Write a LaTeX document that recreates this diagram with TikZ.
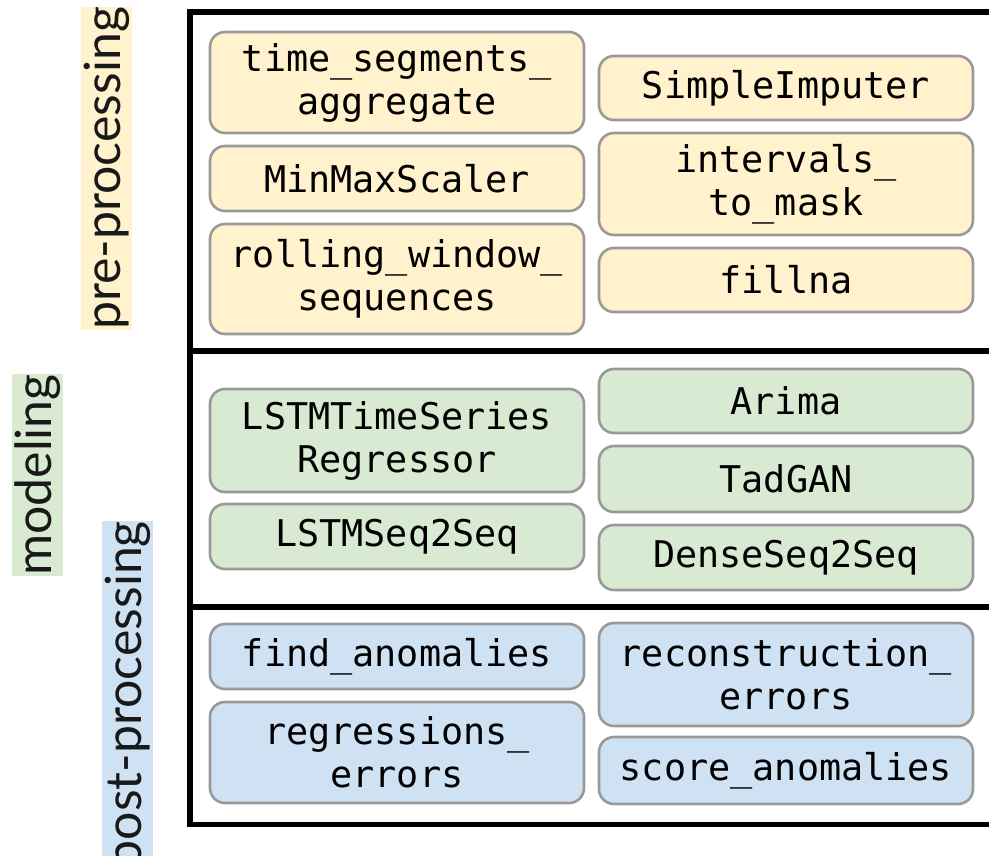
\documentclass[tikz,border=0pt]{standalone}
\usepackage{fontspec}
\setmainfont{Lato}
\newfontfamily\monof{DejaVu Sans Mono}
\definecolor{preY}{HTML}{FFF2CC}
\definecolor{modG}{HTML}{D9EAD3}
\definecolor{postB}{HTML}{CFE2F3}
\definecolor{boxline}{HTML}{999999}
\tikzset{
  fn/.style={draw=boxline, line width=2.6pt, rounded corners=15pt, minimum width=374pt,
    align=center, inner sep=0pt, font=\monof\fontsize{36.8}{43}\selectfont, text=black},
  onel/.style={fn, minimum height=65pt},
  twol/.style={fn, minimum height=102pt},
  stage/.style={rotate=90, inner xsep=0pt, inner ysep=3pt, font=\fontsize{50}{52}\selectfont, text=black!90},
  frame/.style={line width=5.5pt, black}
}
\begin{document}
\begin{tikzpicture}[x=1pt, y=-1pt]
\useasboundingbox (0,0) rectangle (989,856);
\fill[white] (0,0) rectangle (989,856);
% frame
\draw[frame, line cap=rect] (1000,12) -- (190,12) -- (190,824.5) -- (1000,824.5);
\draw[frame] (190,351) -- (1000,351);
\draw[frame] (190,607) -- (1000,607);
% stage labels
\node[stage, fill=preY] (pre) at (106.5,168.5) {pre-processing};
\node[stage, fill=modG] (mod) at (37.5,475) {modeling};
\node[stage, fill=postB, anchor=east] (post) at (127.5,521) {post-processing};
% pre-processing
\node[twol, fill=preY, minimum height=101pt] (tsa) at (397,82.5) {time\_segments\_\\aggregate};
\node[onel, fill=preY] (mms) at (397,178.5) {MinMaxScaler};
\node[twol, fill=preY, minimum height=110pt] (rws) at (397,279) {rolling\_window\_\\sequences};
\node[onel, fill=preY, minimum height=64pt] (si) at (786,88) {SimpleImputer};
\node[twol, fill=preY] (itm) at (786,184) {intervals\_\\to\_mask};
\node[onel, fill=preY, minimum height=64pt] (fna) at (786,280) {fillna};
% modeling
\node[twol, fill=modG, minimum height=103pt] (lstr) at (397,440.5) {LSTMTimeSeries\\Regressor};
\node[onel, fill=modG] (lss) at (397,536.5) {LSTMSeq2Seq};
\node[onel, fill=modG, minimum height=64pt] (ari) at (786,401) {Arima};
\node[onel, fill=modG, minimum height=66pt] (tad) at (786,479) {TadGAN};
\node[onel, fill=modG] (dss) at (786,557.5) {DenseSeq2Seq};
% post-processing
\node[onel, fill=postB] (fa) at (397,656.5) {find\_anomalies};
\node[twol, fill=postB, minimum height=101pt] (re) at (397,752.5) {regressions\_\\errors};
\node[twol, fill=postB, minimum height=103pt] (rce) at (786,674.5) {reconstruction\_\\errors};
\node[onel, fill=postB, minimum height=67pt] (sa) at (786,770.5) {score\_anomalies};
\end{tikzpicture}
\end{document}
